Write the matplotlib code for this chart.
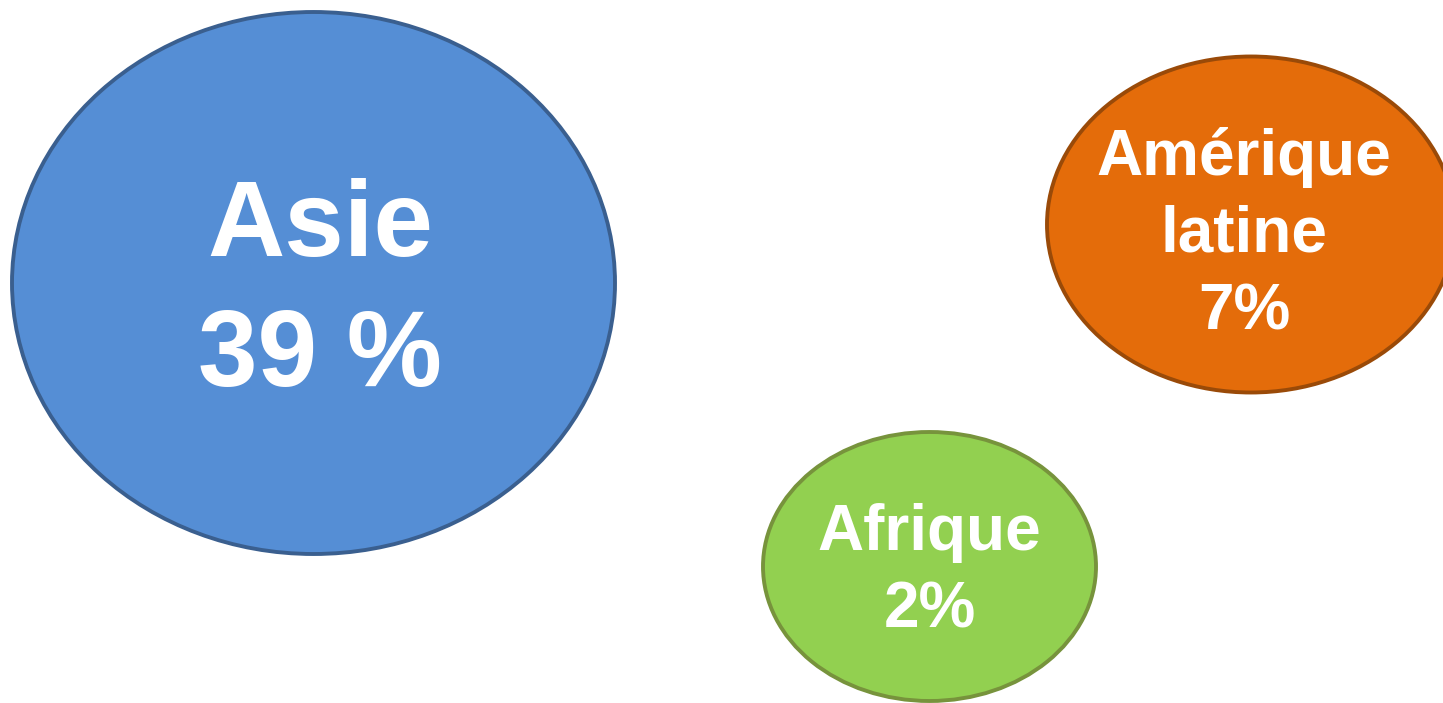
import matplotlib
matplotlib.use("Agg")
import matplotlib.pyplot as plt
from matplotlib.patches import Ellipse

# ---- data ----
regions = ["Asie", "Amérique latine", "Afrique"]
shares = [39, 7, 2]
name_lines = [["Asie"], ["Amérique", "latine"], ["Afrique"]]
share_labels = ["39 %", "7%", "2%"]

# ---- layout / style (pixels, y downwards) ----
W, H = 1443, 703
centers = [(313.5, 283.0), (1251.0, 224.5), (929.5, 566.5)]
radii = [(301.5, 271.0), (204.0, 168.0), (166.5, 134.5)]
text_x = [320, 1244, 929.5]
first_baseline = [256, 175, 550]
line_step = [130, 77, 77]
font_sizes = [77, 46, 46]
fills = ["#558ED5", "#E46C0A", "#92D050"]
edges = ["#3A5F8F", "#9A4A08", "#77933C"]

fig = plt.figure(figsize=(W / 100, H / 100), dpi=100)
ax = fig.add_axes([0, 0, 1, 1])
ax.set_xlim(0, W)
ax.set_ylim(H, 0)
ax.axis("off")

for i, reg in enumerate(regions):
    (cx, cy), (rx, ry) = centers[i], radii[i]
    ax.add_patch(Ellipse((cx, cy), 2 * rx, 2 * ry, facecolor=fills[i],
                         edgecolor=edges[i], linewidth=2.8, zorder=1))
    lines = name_lines[i] + [share_labels[i]]
    for k, line in enumerate(lines):
        ax.text(text_x[i], first_baseline[i] + k * line_step[i], line,
                ha="center", va="baseline", color="white",
                fontsize=font_sizes[i], fontweight="bold",
                family=["Liberation Sans", "DejaVu Sans"], zorder=2)

fig.savefig("out.png", dpi=100, facecolor="white")
